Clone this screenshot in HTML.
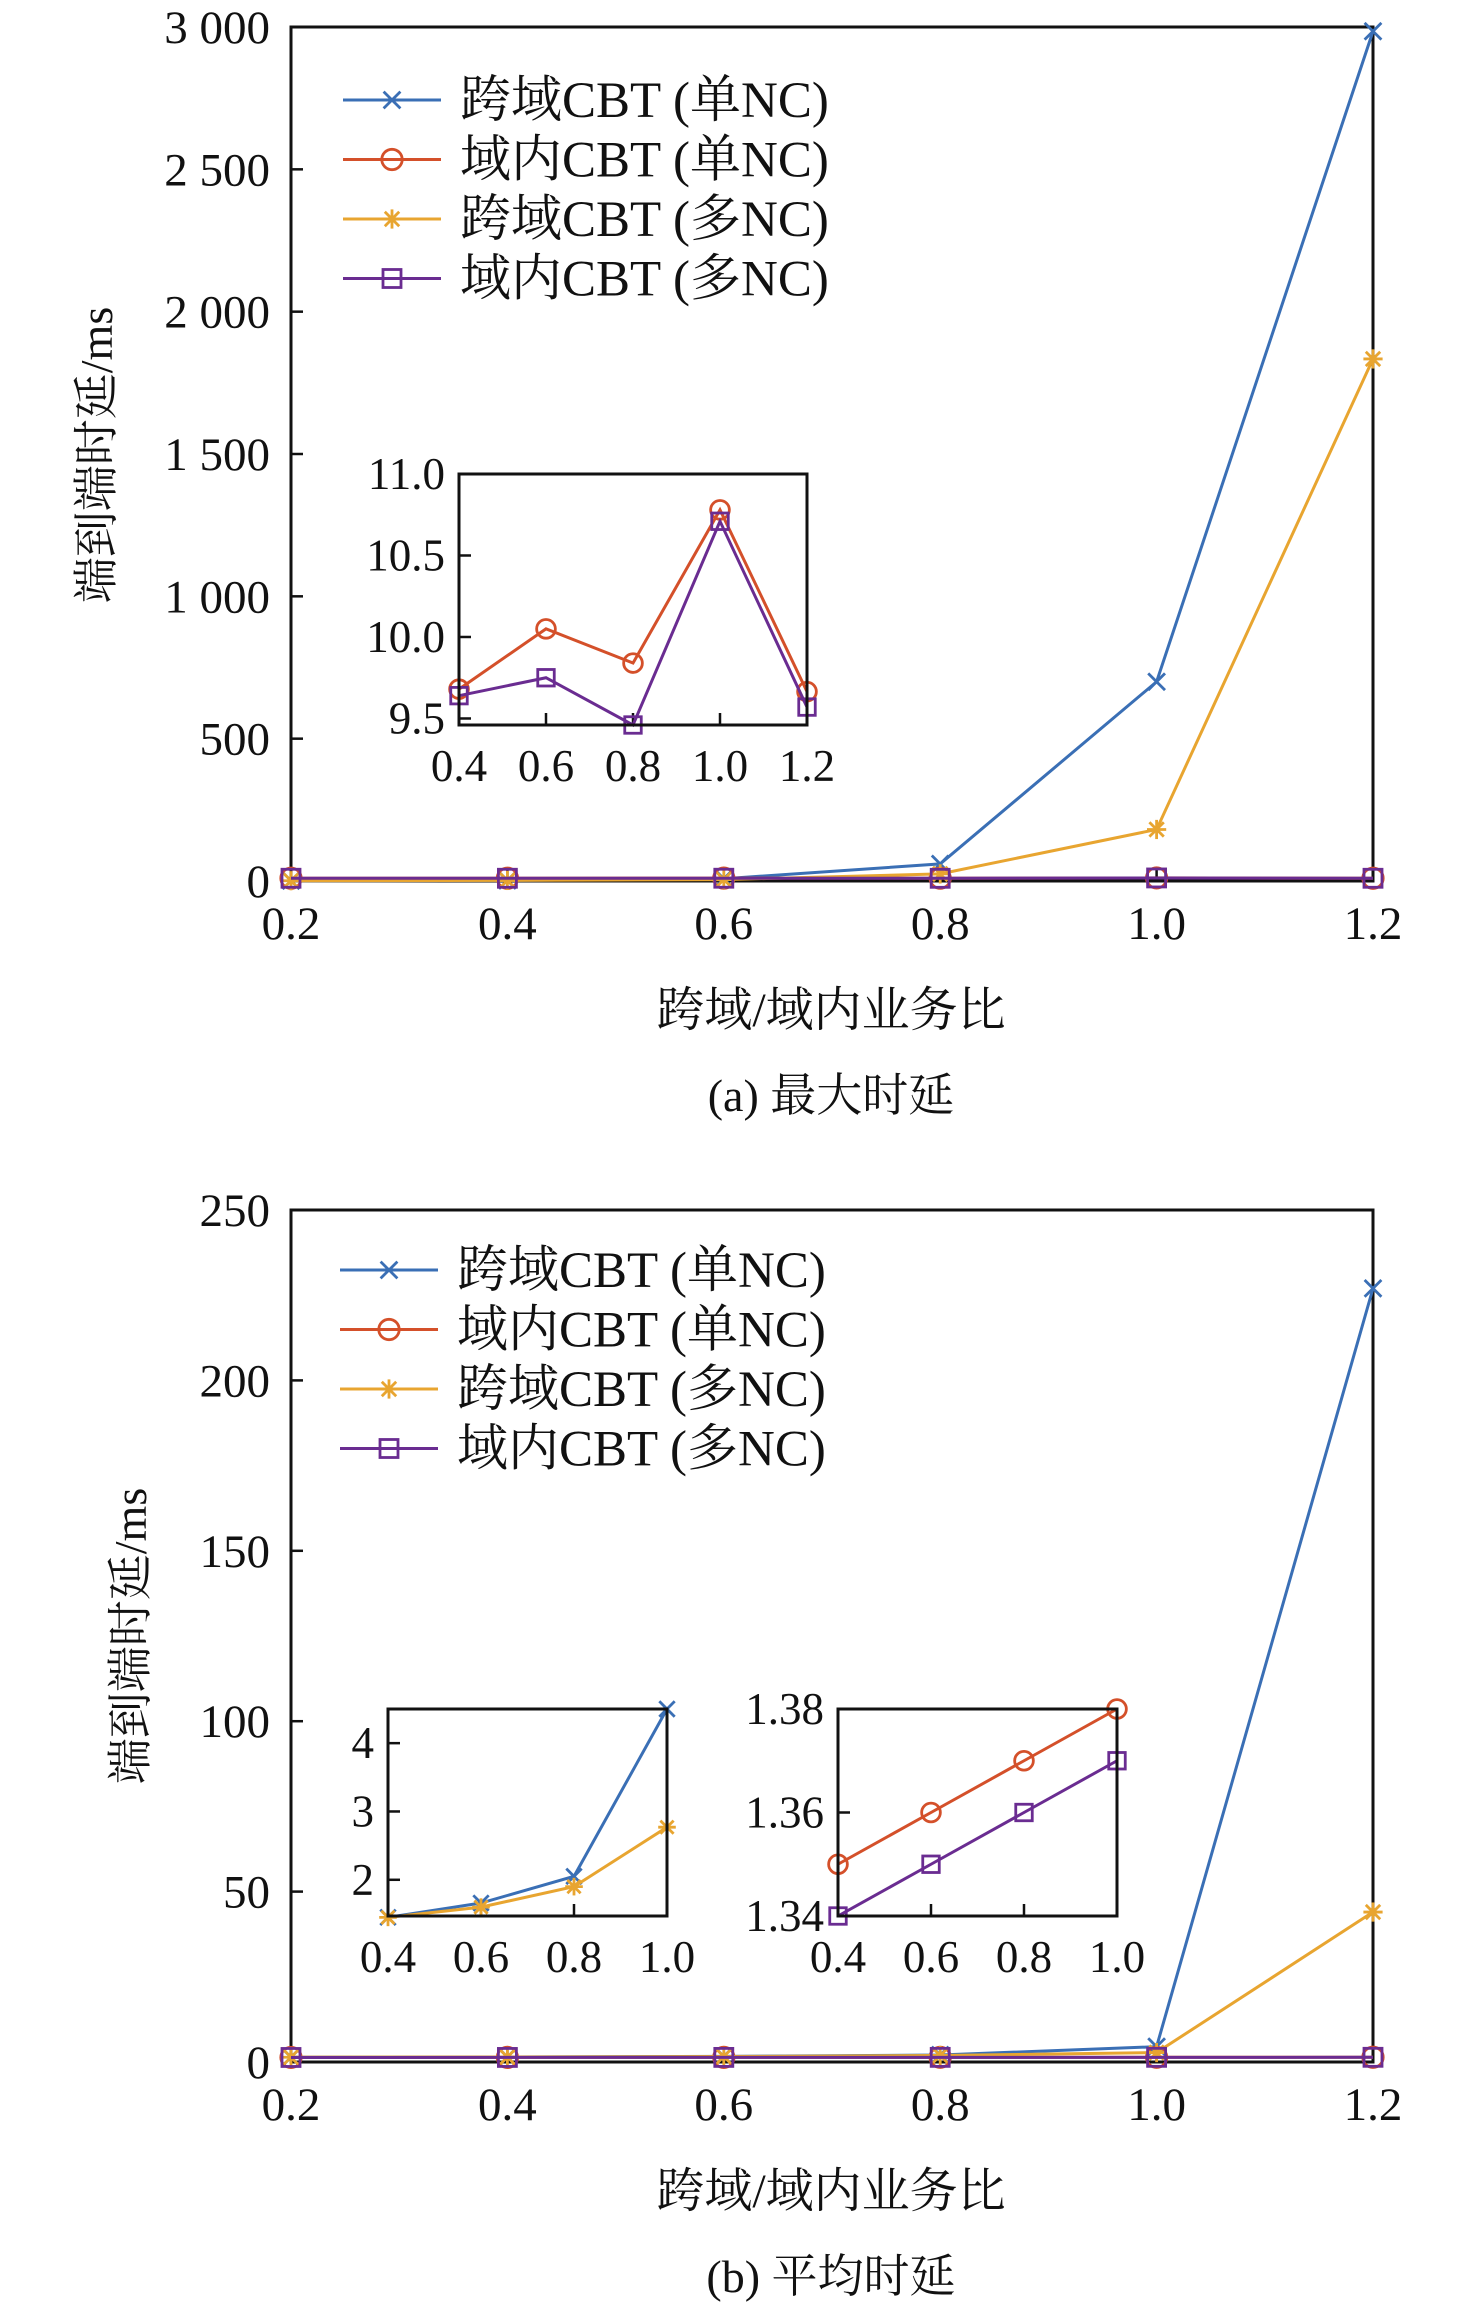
<!DOCTYPE html>
<html><head><meta charset="utf-8">
<style>
html,body{margin:0;padding:0;background:#fff;}
svg{display:block;}
text{font-family:"Liberation Serif","Noto Serif CJK SC","Noto Sans CJK SC",serif;fill:#111;}
</style></head>
<body>
<svg id="fig" width="1476" height="2316" viewBox="0 0 1476 2316" xmlns="http://www.w3.org/2000/svg"></svg>
<script>
// ---- data ----
const xCats = [0.2, 0.4, 0.6, 0.8, 1.0, 1.2];
const seriesNames = ["跨域CBT (单NC)", "域内CBT (单NC)", "跨域CBT (多NC)", "域内CBT (多NC)"];
// chart (a) max delay
const maxCrossSingle = [1, 2, 8, 60, 700, 2985];
const maxIntraSingle = [9.7, 9.68, 10.05, 9.84, 10.78, 9.665];
const maxCrossMulti  = [1, 2, 5, 25, 181, 1834];
const maxIntraMulti  = [9.65, 9.64, 9.75, 9.46, 10.71, 9.57];
const yTicksA = [0, 500, 1000, 1500, 2000, 2500, 3000];
const yTickLabelsA = ["0", "500", "1 000", "1 500", "2 000", "2 500", "3 000"];
const insetAX = [0.4, 0.6, 0.8, 1.0, 1.2];
const insetAYTicks = [9.5, 10.0, 10.5, 11.0];
const insetAYLabels = ["9.5", "10.0", "10.5", "11.0"];
// chart (b) average delay
const avgCrossSingle = [1.4, 1.45, 1.66, 2.05, 4.5, 227];
const avgIntraSingle = [1.34, 1.35, 1.36, 1.37, 1.38, 1.39];
const avgCrossMulti  = [1.4, 1.45, 1.6, 1.9, 2.77, 44];
const avgIntraMulti  = [1.33, 1.34, 1.35, 1.36, 1.37, 1.38];
const yTicksB = [0, 50, 100, 150, 200, 250];
const yTickLabelsB = ["0", "50", "100", "150", "200", "250"];
const insetB1X = [0.4, 0.6, 0.8, 1.0];
const insetB1YTicks = [2, 3, 4];
const insetB2YTicks = [1.34, 1.36, 1.38];
const insetB2YLabels = ["1.34", "1.36", "1.38"];

const colors = ["#3a6fb5", "#d4502a", "#e8a530", "#6a2c91"];
const markers = ["x", "o", "*", "s"];
const NS = "http://www.w3.org/2000/svg";
const svg = document.getElementById("fig");

function mk(tag, attrs, parent) {
  const e = document.createElementNS(NS, tag);
  for (const k in attrs) e.setAttribute(k, attrs[k]);
  (parent || svg).appendChild(e);
  return e;
}
function txt(s, x, y, size, anchor, parent, name) {
  const t = mk("text", {x: x, y: y, "font-size": size, "text-anchor": anchor || "middle"}, parent);
  t.textContent = s;
  
  
  return t;
}
function scale(d0, d1, r0, r1) { return v => r0 + (v - d0) / (d1 - d0) * (r1 - r0); }

function marker(type, x, y, color, size, parent, name) {
  const g = mk("g", {stroke: color, "stroke-width": 2.8, fill: "none"}, parent);
  
  
  const r = size;
  if (type === "x") {
    mk("line", {x1: x - r*0.7, y1: y - r*0.7, x2: x + r*0.7, y2: y + r*0.7}, g);
    mk("line", {x1: x - r*0.7, y1: y + r*0.7, x2: x + r*0.7, y2: y - r*0.7}, g);
  } else if (type === "o") {
    mk("circle", {cx: x, cy: y, r: r*0.85}, g);
  } else if (type === "*") {
    mk("line", {x1: x - r*0.8, y1: y, x2: x + r*0.8, y2: y}, g);
    mk("line", {x1: x, y1: y - r*0.8, x2: x, y2: y + r*0.8}, g);
    mk("line", {x1: x - r*0.6, y1: y - r*0.6, x2: x + r*0.6, y2: y + r*0.6}, g);
    mk("line", {x1: x - r*0.6, y1: y + r*0.6, x2: x + r*0.6, y2: y - r*0.6}, g);
  } else {
    mk("rect", {x: x - r*0.75, y: y - r*0.75, width: r*1.5, height: r*1.5}, g);
  }
}

function series(xs, ys, sx, sy, idx, parent, name, msize) {
  const g = mk("g", {}, parent);
  
  
  const pts = xs.map((x, i) => sx(x) + "," + sy(ys[i])).join(" ");
  const pl = mk("polyline", {points: pts, fill: "none", stroke: colors[idx], "stroke-width": 3}, g);
  
  
  xs.forEach((x, i) => marker(markers[idx], sx(x), sy(ys[i]), colors[idx], msize, g, name + '-point'));
}

function frame(x0, y0, x1, y1, parent, name) {
  const r = mk("rect", {x: x0, y: y0, width: x1 - x0, height: y1 - y0, fill: "none", stroke: "#111", "stroke-width": 3}, parent);
  
  
}

function legend(x, y0, dy, parent, name) {
  const g = mk("g", {}, parent);
  
  
  seriesNames.forEach((n, i) => {
    const y = y0 + i * dy;
    const e = mk("g", {}, g);
    
    
    mk("line", {x1: x, y1: y, x2: x + 98, y2: y, stroke: colors[i], "stroke-width": 3}, e);
    marker(markers[i], x + 49, y, colors[i], 12, e, 'legend-marker');
    txt(n, x + 117, y + 17, 51, "start", e, 'legend-label');
  });
}

function mainChart(cfg) {
  const g = mk("g", {});
  
  
  const sx = scale(0.2, 1.2, 291, 1373);
  const sy = scale(0, cfg.ymax, cfg.y0, cfg.yTop);
  frame(291, cfg.yTop, 1373, cfg.y0, g, 'plot-frame');
  cfg.ticks.forEach((t, i) => {
    mk("line", {x1: 291, y1: sy(t), x2: 303, y2: sy(t), stroke: "#111", "stroke-width": 2.5}, g);
    txt(cfg.tickLabels[i], 270, sy(t) + 16, 47, "end", g, 'y-tick-label');
  });
  xCats.forEach(x => {
    mk("line", {x1: sx(x), y1: cfg.y0, x2: sx(x), y2: cfg.y0 - 12, stroke: "#111", "stroke-width": 2.5}, g);
    txt(x.toFixed(1), sx(x), cfg.y0 + 58, 47, "middle", g, 'x-tick-label');
  });
  cfg.data.forEach((d, i) => series(xCats, d, sx, sy, i, g, 'series-' + (i + 1), 12));
  legend(cfg.legX, cfg.legY, 59.5, g, 'legend');
  const yt = txt("端到端时延/ms", 0, 0, 46, "middle", g, 'y-axis-title');
  yt.setAttribute("transform", "translate(" + (cfg.ytX) + "," + cfg.ytY + ") rotate(-90)");
  txt("跨域/域内业务比", 831, cfg.y0 + 145, 48, "middle", g, 'x-axis-title');
  txt(cfg.caption, 831, cfg.y0 + 230, 46, "middle", g, 'caption');
  return g;
}

function inset(cfg) {
  const g = mk("g", {});
  
  
  const sx = scale(cfg.xs[0], cfg.xs[cfg.xs.length - 1], cfg.x0, cfg.x1);
  const sy = scale(cfg.ymin, cfg.ymax, cfg.y1, cfg.y0);
  mk("rect", {x: cfg.x0, y: cfg.y0, width: cfg.x1 - cfg.x0, height: cfg.y1 - cfg.y0, fill: "#fff"}, g);
  cfg.yTicks.forEach((t, i) => {
    if (Math.abs(sy(t) - cfg.y0) > 2) mk("line", {x1: cfg.x0, y1: sy(t), x2: cfg.x0 + 12, y2: sy(t), stroke: "#111", "stroke-width": 2.5}, g);
    txt(cfg.yLabels[i], cfg.x0 - 14, sy(t) + 15, 45, "end", g, 'inset-y-tick-label');
  });
  cfg.xs.forEach((x, i) => {
    if (i > 0 && i < cfg.xs.length - 1) mk("line", {x1: sx(x), y1: cfg.y1, x2: sx(x), y2: cfg.y1 - 12, stroke: "#111", "stroke-width": 2.5}, g);
    txt(x.toFixed(1), sx(x), cfg.y1 + 56, 45, "middle", g, 'inset-x-tick-label');
  });
  cfg.series.forEach(s => series(cfg.xs, s.d, sx, sy, s.i, g, 'inset-series-' + (s.i + 1), 11));
  frame(cfg.x0, cfg.y0, cfg.x1, cfg.y1, g, 'inset-frame');
}

mainChart({name: "chart-max-delay", ymax: 3000, y0: 881, yTop: 27, ticks: yTicksA, tickLabels: yTickLabelsA,
  data: [maxCrossSingle, maxIntraSingle, maxCrossMulti, maxIntraMulti], legX: 343, legY: 100,
  ytX: 112, ytY: 455, caption: "(a) 最大时延"});
inset({name: "inset-max-delay", xs: insetAX, x0: 459, x1: 807, y0: 474, y1: 725, ymin: 9.46, ymax: 11.0,
  yTicks: insetAYTicks, yLabels: insetAYLabels,
  series: [{i: 1, d: maxIntraSingle.slice(1)}, {i: 3, d: maxIntraMulti.slice(1)}]});

mainChart({name: "chart-avg-delay", ymax: 250, y0: 2062, yTop: 1210, ticks: yTicksB, tickLabels: yTickLabelsB,
  data: [avgCrossSingle, avgIntraSingle, avgCrossMulti, avgIntraMulti], legX: 340, legY: 1270,
  ytX: 146, ytY: 1636, caption: "(b) 平均时延"});
inset({name: "inset-avg-cross", xs: insetB1X, x0: 388, x1: 667, y0: 1709, y1: 1916, ymin: 1.47, ymax: 4.5,
  yTicks: insetB1YTicks, yLabels: insetB1YTicks.map(String),
  series: [{i: 0, d: avgCrossSingle.slice(1, 5)}, {i: 2, d: avgCrossMulti.slice(1, 5)}]});
inset({name: "inset-avg-intra", xs: insetB1X, x0: 838, x1: 1117, y0: 1709, y1: 1916, ymin: 1.34, ymax: 1.38,
  yTicks: insetB2YTicks, yLabels: insetB2YLabels,
  series: [{i: 1, d: avgIntraSingle.slice(1, 5)}, {i: 3, d: avgIntraMulti.slice(1, 5)}]});
</script>
</body></html>
